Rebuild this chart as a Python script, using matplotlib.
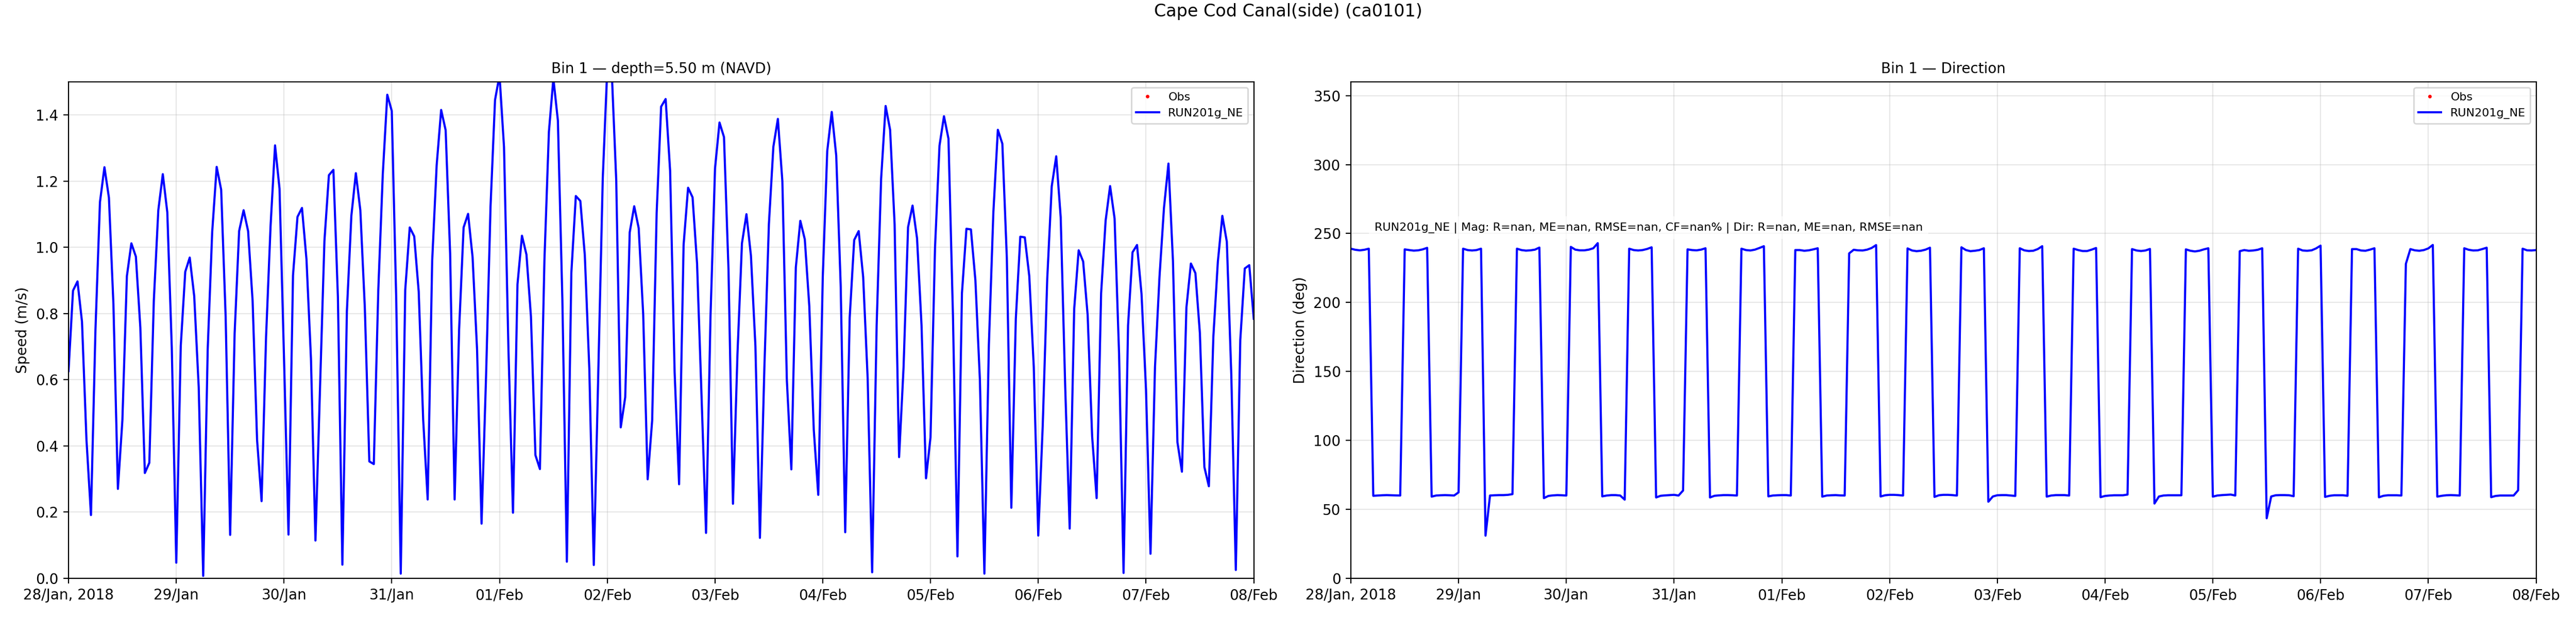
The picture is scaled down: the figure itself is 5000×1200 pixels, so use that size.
import numpy as np
import pandas as pd
import matplotlib
matplotlib.use('Agg')
import matplotlib.pyplot as plt
import matplotlib.dates as mdates
from matplotlib.ticker import FuncFormatter

station = 'Cape Cod Canal(side) (ca0101)'
run_name = 'RUN201g_NE'
times = pd.date_range('2018-01-28 00:00', periods=265, freq='h')

# model speed (m/s), hourly
speed = [
    0.626, 0.869, 0.897, 0.775, 0.418, 0.191, 0.751, 1.136, 1.242, 1.150, 0.828, 0.270,
    0.478, 0.913, 1.012, 0.972, 0.757, 0.318, 0.349, 0.839, 1.112, 1.221, 1.106, 0.697,
    0.047, 0.702, 0.926, 0.969, 0.852, 0.577, 0.007, 0.691, 1.046, 1.243, 1.174, 0.790,
    0.131, 0.740, 1.049, 1.112, 1.049, 0.839, 0.418, 0.233, 0.729, 1.063, 1.308, 1.177,
    0.664, 0.132, 0.915, 1.092, 1.119, 0.964, 0.664, 0.114, 0.566, 1.019, 1.218, 1.234,
    0.850, 0.041, 0.806, 1.095, 1.224, 1.112, 0.817, 0.353, 0.345, 0.871, 1.221, 1.461,
    1.412, 0.839, 0.014, 0.871, 1.060, 1.033, 0.866, 0.478, 0.238, 0.959, 1.248, 1.415,
    1.354, 0.981, 0.238, 0.751, 1.060, 1.101, 0.970, 0.691, 0.165, 0.609, 1.123, 1.445,
    1.520, 1.303, 0.686, 0.198, 0.888, 1.035, 0.978, 0.791, 0.372, 0.330, 0.959, 1.349,
    1.510, 1.383, 0.842, 0.050, 0.923, 1.155, 1.140, 0.976, 0.633, 0.040, 0.620, 1.210,
    1.540, 1.530, 1.202, 0.456, 0.547, 1.045, 1.124, 1.058, 0.798, 0.299, 0.477, 1.104,
    1.425, 1.448, 1.231, 0.623, 0.284, 1.007, 1.180, 1.151, 0.951, 0.550, 0.137, 0.793,
    1.238, 1.377, 1.333, 0.934, 0.225, 0.677, 1.012, 1.100, 0.975, 0.701, 0.122, 0.638,
    1.070, 1.304, 1.388, 1.200, 0.599, 0.329, 0.939, 1.080, 1.024, 0.822, 0.448, 0.252,
    0.910, 1.291, 1.409, 1.277, 0.881, 0.139, 0.788, 1.022, 1.049, 0.910, 0.604, 0.018,
    0.764, 1.207, 1.427, 1.355, 1.070, 0.366, 0.638, 1.061, 1.126, 1.027, 0.764, 0.302,
    0.426, 0.997, 1.307, 1.396, 1.328, 0.793, 0.066, 0.861, 1.056, 1.054, 0.900, 0.599,
    0.014, 0.706, 1.106, 1.355, 1.313, 0.968, 0.213, 0.784, 1.032, 1.030, 0.913, 0.638,
    0.129, 0.463, 0.905, 1.184, 1.275, 1.090, 0.579, 0.150, 0.813, 0.991, 0.957, 0.795,
    0.429, 0.242, 0.861, 1.080, 1.185, 1.087, 0.677, 0.016, 0.764, 0.985, 1.007, 0.859,
    0.570, 0.074, 0.638, 0.910, 1.119, 1.253, 0.959, 0.411, 0.322, 0.818, 0.951, 0.922,
    0.740, 0.336, 0.278, 0.730, 0.956, 1.095, 1.017, 0.613, 0.025, 0.720, 0.936, 0.946,
    0.784,
]

# model direction (deg), hourly
direction = [
    239.0, 238.2, 237.8, 238.2, 239.0, 59.8, 60.0, 60.2, 60.3, 60.2, 60.1, 60.0,
    238.5, 238.0, 237.6, 237.8, 238.5, 239.6, 59.2, 60.0, 60.2, 60.3, 60.2, 60.0, 62.3,
    239.0, 238.0, 237.7, 238.0, 239.0, 30.9, 60.0, 60.2, 60.3, 60.3, 60.5, 61.0,
    239.0, 238.0, 237.6, 237.8, 238.3, 239.8, 58.1, 59.7, 60.1, 60.3, 60.2, 60.0,
    240.3, 238.3, 237.8, 237.8, 238.3, 239.3, 243.0, 59.4, 60.0, 60.3, 60.3, 60.0, 57.0,
    239.0, 238.0, 237.7, 238.0, 238.8, 240.0, 58.6, 59.8, 60.1, 60.3, 60.5, 60.0, 63.6,
    238.5, 238.0, 237.8, 238.3, 239.3, 58.6, 59.8, 60.1, 60.3, 60.3, 60.2, 60.0,
    239.0, 238.0, 237.7, 238.3, 239.5, 240.8, 59.4, 60.0, 60.2, 60.3, 60.3, 60.0,
    238.0, 238.0, 237.5, 237.8, 238.5, 239.3, 59.2, 60.0, 60.2, 60.3, 60.1, 60.0,
    235.6, 238.2, 237.8, 237.7, 238.3, 239.5, 241.6, 59.3, 60.2, 60.5, 60.5, 60.3, 60.0,
    239.2, 237.7, 237.2, 237.5, 238.3, 239.7, 59.0, 60.2, 60.5, 60.5, 60.3, 60.0,
    240.0, 238.0, 237.2, 237.5, 238.0, 239.3, 55.5, 59.3, 60.2, 60.3, 60.3, 60.0, 59.7,
    239.3, 237.8, 237.3, 237.5, 238.7, 240.8, 59.2, 60.0, 60.3, 60.3, 60.3, 60.0,
    239.0, 238.0, 237.3, 237.3, 238.3, 239.5, 58.8, 59.7, 60.0, 60.2, 60.2, 60.2, 60.7,
    238.7, 237.7, 237.3, 237.7, 238.8, 54.2, 59.3, 60.0, 60.2, 60.2, 60.2, 60.2,
    238.5, 237.5, 237.0, 237.5, 238.5, 239.3, 59.2, 60.0, 60.3, 60.5, 60.7, 60.0,
    237.2, 238.0, 237.5, 237.7, 238.2, 239.3, 43.5, 59.3, 60.2, 60.3, 60.3, 60.2, 59.5,
    239.0, 237.7, 237.5, 237.8, 239.2, 241.2, 59.0, 59.8, 60.2, 60.2, 60.2, 59.8,
    238.7, 238.7, 237.7, 237.5, 238.3, 239.3, 58.7, 59.8, 60.2, 60.2, 60.2, 60.0,
    228.0, 238.7, 237.8, 237.5, 238.0, 239.2, 241.7, 59.2, 59.8, 60.2, 60.3, 60.2, 60.0,
    239.3, 238.2, 237.7, 237.8, 238.7, 239.7, 58.8, 59.7, 60.0, 60.0, 60.0, 60.0, 63.8,
    239.0, 237.8, 237.7, 238.0,
]

# no observations in this window
obs_times = []
obs_speed = []
obs_dir = []

stats_txt = (run_name + ' | Mag: R=nan, ME=nan, RMSE=nan, CF=nan% | '
             'Dir: R=nan, ME=nan, RMSE=nan')


def date_fmt(x, pos):
    d = mdates.num2date(x)
    if pos == 0:
        return d.strftime('%d/%b, %Y')
    return d.strftime('%d/%b')


fig, (ax1, ax2) = plt.subplots(1, 2, figsize=(25, 6), dpi=200)
fig.subplots_adjust(left=0.0266, right=0.9845, bottom=0.0643, top=0.8676, wspace=0.0819)

# speed panel
ax1.plot(obs_times, obs_speed, 'r.', ms=3, label='Obs')
ax1.plot(times, speed, color='blue', lw=1.5, label=run_name)
ax1.set_ylim(0, 1.5)
ax1.set_ylabel('Speed (m/s)')
ax1.set_title('Bin 1 \u2014 depth=5.50 m (NAVD)', fontsize=10)
ax1.legend(loc='upper right', fontsize=8)

# direction panel
ax2.plot(obs_times, obs_dir, 'r.', ms=3, label='Obs')
ax2.plot(times, direction, color='blue', lw=1.5, label=run_name)
ax2.set_ylim(0, 360)
ax2.set_yticks(np.arange(0, 351, 50))
ax2.set_ylabel('Direction (deg)')
ax2.set_title('Bin 1 \u2014 Direction', fontsize=10)
ax2.legend(loc='upper right', fontsize=8)
ax2.text(0.02, 0.695, stats_txt, transform=ax2.transAxes, fontsize=8, va='bottom',
         bbox=dict(facecolor='white', alpha=0.7, edgecolor='none'))

for ax in (ax1, ax2):
    ax.set_xlim(pd.Timestamp('2018-01-28'), pd.Timestamp('2018-02-08'))
    ax.xaxis.set_major_locator(mdates.DayLocator())
    ax.xaxis.set_major_formatter(FuncFormatter(date_fmt))
    ax.grid(True, alpha=0.3)

fig.suptitle(station, fontsize=12, y=0.995)
fig.savefig('out.png', dpi=200)
